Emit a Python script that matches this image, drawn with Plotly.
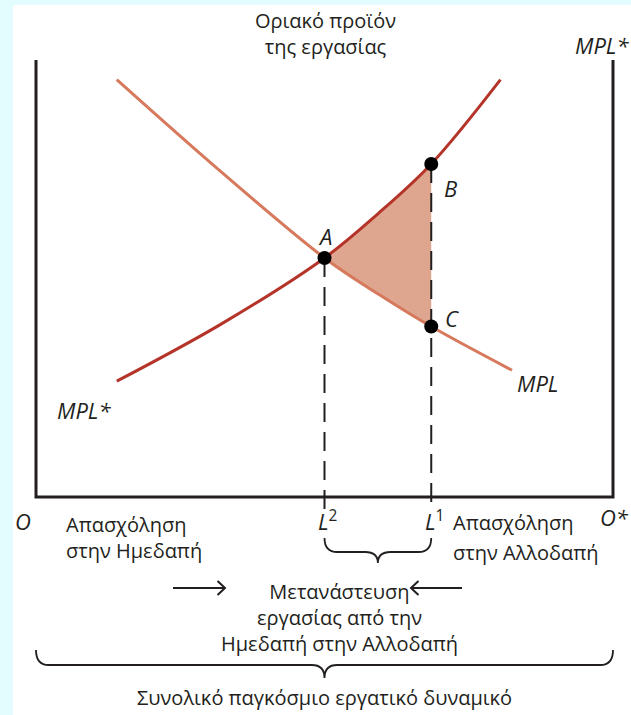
import plotly.graph_objects as go

# ---- data (labour units: O = 0, O* = 100 ; MPL in arbitrary units) ----
labour_total = 100
L2 = 50.0
L1 = 68.5
mpl_x = [14.0, 32.0, 50.0, 59.25, 68.5, 82.5]
mpl_y = [95.5, 74.5, 54.7, 46.5, 39.0, 29.0]
mpls_x = [14.0, 32.0, 50.0, 59.25, 68.5, 80.5]
mpls_y = [26.5, 39.5, 54.7, 64.8, 76.2, 95.5]
point_labels = ["A", "B", "C"]
point_x = [L2, L1, L1]
point_y = [54.7, 76.2, 39.0]
axis_top = 100

# ---- pixel helpers for layout placement ----
SX, SY = 5.77, 4.37
OX, OY = 36, 497
def X(p): return (p - OX) / SX
def Y(p): return (OY - p) / SY

INK = "#231f20"
C_MPL = "#d7795c"
C_MPLS = "#b5342a"
C_FILL = "#dfa68f"
FONT = "Open Sans"
FS = 20
FI = 22  # italic symbol labels

fig = go.Figure()

# shaded area between curves (A-B-C)
fig.add_trace(go.Scatter(x=mpl_x[2:5], y=mpl_y[2:5], mode="lines",
                         line=dict(width=0, shape="spline", color=C_FILL),
                         hoverinfo="skip", showlegend=False))
fig.add_trace(go.Scatter(x=mpls_x[2:5], y=mpls_y[2:5], mode="lines", fill="tonexty",
                         fillcolor=C_FILL, line=dict(width=0, shape="spline", color=C_FILL),
                         hoverinfo="skip", showlegend=False))

# dashed verticals
for xv, yv in [(L2, point_y[0]), (L1, point_y[1])]:
    fig.add_trace(go.Scatter(x=[xv, xv], y=[yv, Y(512)], mode="lines",
                             line=dict(color=INK, width=2, dash="19px,10px"),
                             hoverinfo="skip", showlegend=False))

# box axes
fig.add_trace(go.Scatter(x=[0, 0, labour_total, labour_total],
                         y=[axis_top, 0, 0, axis_top], mode="lines",
                         line=dict(color=INK, width=3), hoverinfo="skip", showlegend=False))

# curves
fig.add_trace(go.Scatter(x=mpl_x, y=mpl_y, mode="lines",
                         line=dict(color=C_MPL, width=3, shape="spline"),
                         hoverinfo="skip", showlegend=False))
fig.add_trace(go.Scatter(x=mpls_x, y=mpls_y, mode="lines",
                         line=dict(color=C_MPLS, width=3, shape="spline"),
                         hoverinfo="skip", showlegend=False))

# points
fig.add_trace(go.Scatter(x=point_x, y=point_y, mode="markers",
                         marker=dict(color="black", size=14),
                         hoverinfo="skip", showlegend=False))

ann = []
def T(text, x, y, size=FS, xanchor="center", yanchor="middle", align="center"):
    ann.append(dict(text=text, x=x, y=y, xref="x", yref="y", showarrow=False,
                    xanchor=xanchor, yanchor=yanchor, align=align,
                    font=dict(family=FONT, size=size, color=INK)))

T("Οριακό προϊόν<br>της εργασίας", X(325), Y(33))
T("<i>MPL</i>", X(8), Y(45), size=FI, xanchor="left")
T("<i>MPL*</i>", X(631), Y(45), size=FI, xanchor="right")
T("<i>A</i>", point_x[0], Y(236), size=FI)
T("<i>B</i>", X(450), Y(188), size=FI)
T("<i>C</i>", X(452), Y(318), size=FI)
T("<i>MPL</i>", X(537), Y(383), size=FI)
T("<i>MPL*</i>", X(84), Y(410), size=FI)
T("<i>O</i>", X(23), Y(521), size=FI)
T("<i>O*</i>", X(631), Y(517), size=FI, xanchor="right")
T("<i>L</i><sup>2</sup>", L2 + 0.6, Y(520), size=FI)
T("<i>L</i><sup>1</sup>", L1 + 0.6, Y(520), size=FI)
T("Απασχόληση<br>στην Ημεδαπή", X(64), Y(537), xanchor="left", align="left")
T("Απασχόληση", X(451), Y(522), xanchor="left", align="left")
T("στην Αλλοδαπή", X(451), Y(552), xanchor="left", align="left")
T("Μετανάστευση<br>εργασίας από την<br>Ημεδαπή στην Αλλοδαπή", X(339), Y(617))
T("Συνολικό παγκόσμιο εργατικό δυναμικό", X(324), Y(697))

shapes = []
def brace(x0, x1, yt, ym, ytip, r):
    xc = (x0 + x1) / 2
    return (f"M {x0},{yt} Q {x0},{ym} {x0 + r},{ym} L {xc - r},{ym} "
            f"Q {xc},{ym} {xc},{ytip} Q {xc},{ym} {xc + r},{ym} "
            f"L {x1 - r},{ym} Q {x1},{ym} {x1},{yt}")

shapes.append(dict(type="path", xref="x", yref="y",
                   path=brace(L2, L1, Y(538), Y(552), Y(563), 2.2),
                   line=dict(color=INK, width=1.8)))
shapes.append(dict(type="path", xref="x", yref="y",
                   path=brace(0, labour_total, Y(650), Y(665), Y(678), 2.2),
                   line=dict(color=INK, width=1.8)))

def arrow(x0, x1, yp):
    y = Y(yp)
    d = 1.3 if x1 > x0 else -1.3
    return (f"M {X(x0)},{y} L {X(x1)},{y} M {X(x1) - d},{Y(yp - 7)} "
            f"L {X(x1)},{y} L {X(x1) - d},{Y(yp + 7)}")

shapes.append(dict(type="path", xref="x", yref="y", path=arrow(173, 225, 588),
                   line=dict(color=INK, width=2)))
shapes.append(dict(type="path", xref="x", yref="y", path=arrow(462, 411, 588),
                   line=dict(color=INK, width=2)))

fig.update_layout(
    width=631, height=715, autosize=False,
    margin=dict(l=13, r=0, t=5, b=0),
    paper_bgcolor="#e3fdfe", plot_bgcolor="white",
    xaxis=dict(range=[X(13), X(631)], visible=False, fixedrange=True),
    yaxis=dict(range=[Y(715), Y(5)], visible=False, fixedrange=True),
    annotations=ann, shapes=shapes, showlegend=False,
)

fig.write_html("out.html", config={"displayModeBar": False},
               post_script="document.body.style.margin='0';document.body.style.overflow='hidden';")
